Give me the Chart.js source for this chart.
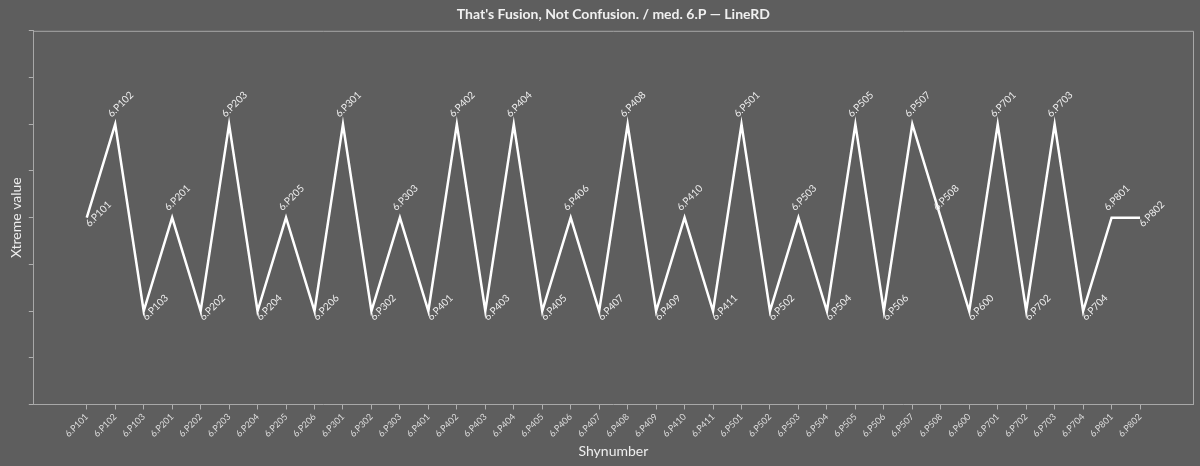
<!DOCTYPE html>
<html>
<head>
<meta charset="utf-8">
<script src="https://cdn.jsdelivr.net/npm/chart.js@4.4.1/dist/chart.umd.min.js"></script>
<style>
html,body{margin:0;padding:0;background:#5e5e5e;}
#wrap{width:1200px;height:466px;}
</style>
</head>
<body>
<div id="wrap"><canvas id="c"></canvas></div>
<script>
const categories = ["6.P101","6.P102","6.P103","6.P201","6.P202","6.P203","6.P204","6.P205","6.P206","6.P301","6.P302","6.P303","6.P401","6.P402","6.P403","6.P404","6.P405","6.P406","6.P407","6.P408","6.P409","6.P410","6.P411","6.P501","6.P502","6.P503","6.P504","6.P505","6.P506","6.P507","6.P508","6.P600","6.P701","6.P702","6.P703","6.P704","6.P801","6.P802"];
const values = [2,3,1,2,1,3,1,2,1,3,1,2,1,3,1,3,1,2,1,3,1,2,1,3,1,2,1,3,1,3,2,1,3,1,3,1,2,2];
const titleText = "That's Fusion, Not Confusion. / med. 6.P \u2014 LineRD";
const xTitle = "Shynumber";
const yTitle = "Xtreme value";

const FONT = "Lato, 'Noto Sans', sans-serif";

const pointLabels = {
  id: 'pointLabels',
  afterDatasetsDraw(chart) {
    const ctx = chart.ctx;
    const meta = chart.getDatasetMeta(0);
    ctx.save();
    ctx.font = "10px " + FONT;
    ctx.fillStyle = "#eeeeee";
    ctx.textAlign = "left";
    ctx.textBaseline = "alphabetic";
    meta.data.forEach((pt, i) => {
      const v = values[i];
      const above = i < values.length - 1 && v >= values[i + 1];
      ctx.save();
      ctx.translate(pt.x, pt.y);
      ctx.rotate(-Math.PI / 4);
      if (above) ctx.fillText(categories[i], 2, -7);
      else ctx.fillText(categories[i], -5, 9);
      ctx.restore();
    });
    ctx.restore();
  }
};

const frame = {
  id: 'frame',
  beforeDatasetsDraw(chart) {
    const {ctx, chartArea: a} = chart;
    ctx.save();
    ctx.strokeStyle = "#a8a8a8";
    ctx.lineWidth = 1;
    ctx.beginPath();
    ctx.moveTo(a.left, a.top + 0.5);
    ctx.lineTo(a.right + 0.5, a.top + 0.5);
    ctx.lineTo(a.right + 0.5, a.bottom);
    ctx.stroke();
    ctx.restore();
  }
};

new Chart(document.getElementById('c'), {
  type: 'line',
  data: {
    datasets: [{
      data: values.map((v, i) => ({x: i, y: v})),
      borderColor: '#ffffff',
      borderWidth: 2.5,
      pointRadius: 0,
      tension: 0,
      fill: false
    }]
  },
  options: {
    responsive: true,
    maintainAspectRatio: false,
    animation: false,
    layout: {padding: {left: 4, right: 7, top: 0, bottom: 6}},
    plugins: {
      legend: {display: false},
      tooltip: {enabled: false},
      title: {
        display: true,
        text: titleText,
        fullSize: false,
        color: '#f0f0f0',
        font: {family: FONT, size: 14, weight: 'bold'},
        padding: {top: 6, bottom: 8}
      }
    },
    scales: {
      x: {
        type: 'linear',
        min: -1.86,
        max: 38.86,
        afterBuildTicks(scale) {
          scale.ticks = categories.map((_, i) => ({value: i}));
        },
        ticks: {
          autoSkip: false,
          minRotation: 45,
          maxRotation: 45,
          color: '#dddddd',
          font: {family: FONT, size: 9},
          padding: 2,
          callback: (v) => categories[v]
        },
        grid: {display: true, drawOnChartArea: false, drawTicks: true, tickLength: 5, color: '#b0b0b0'},
        border: {display: true, color: '#a8a8a8', width: 1},
        title: {display: true, text: xTitle, color: '#eeeeee', font: {family: FONT, size: 14}, padding: {top: 2, bottom: 0}}
      },
      y: {
        min: 0,
        max: 4,
        ticks: {display: false, stepSize: 0.5},
        grid: {display: true, drawOnChartArea: false, drawTicks: true, tickLength: 5, color: '#b0b0b0'},
        border: {display: true, color: '#a8a8a8', width: 1},
        title: {display: true, text: yTitle, color: '#eeeeee', font: {family: FONT, size: 14}, padding: {top: 4, bottom: 4}}
      }
    }
  },
  plugins: [frame, pointLabels]
});
</script>
</body>
</html>
